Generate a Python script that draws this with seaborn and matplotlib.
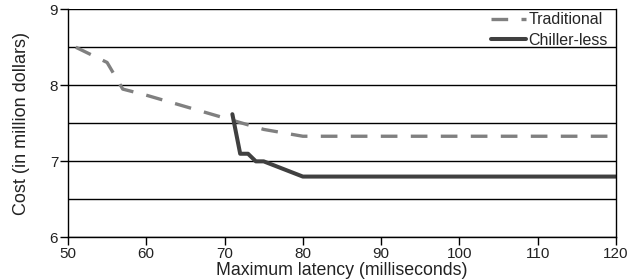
import pandas as pd
import matplotlib
matplotlib.use("Agg")
import matplotlib.pyplot as plt
import seaborn as sns

# latency (ms) vs cost (million dollars)
trad_latency = [51, 55, 57, 60, 65, 70, 75, 80, 90, 100, 110, 120]
trad_cost = [8.5, 8.3, 7.95, 7.87, 7.72, 7.57, 7.42, 7.33, 7.33, 7.33, 7.33, 7.33]

chill_latency = [71, 72, 73, 74, 75, 80, 90, 100, 110, 120]
chill_cost = [7.62, 7.1, 7.1, 7.0, 7.0, 6.8, 6.8, 6.8, 6.8, 6.8]

trad = pd.DataFrame({"latency": trad_latency, "cost": trad_cost})
chill = pd.DataFrame({"latency": chill_latency, "cost": chill_cost})

sns.set_style("white")
plt.rcParams["font.family"] = ["Liberation Sans", "DejaVu Sans"]

fig = plt.figure(figsize=(6.41, 2.79), dpi=100)
ax = fig.add_axes([0.106, 0.149, 0.855, 0.818])

sns.lineplot(data=trad, x="latency", y="cost", ax=ax, color="#808080",
             linewidth=2.4, label="Traditional")
ax.lines[-1].set_dashes([5, 4])
ax.lines[-1].set_dash_capstyle("butt")
sns.lineplot(data=chill, x="latency", y="cost", ax=ax, color="#404040",
             linewidth=2.9, label="Chiller-less")

ax.set_xlim(50, 120)
ax.set_ylim(6, 9)
ax.set_xticks(range(50, 121, 10))
ax.set_yticks([6, 7, 8, 9])
ax.set_yticks([6.5, 7.5, 8.5], minor=True)
ax.grid(True, which="both", axis="y", color="black", linewidth=1)
ax.set_axisbelow(True)

for side in ["left", "bottom", "right"]:
    ax.spines[side].set_visible(True)
    ax.spines[side].set_color("black")
    ax.spines[side].set_linewidth(1)
ax.spines["top"].set_visible(False)

ax.tick_params(axis="both", which="major", direction="out", length=6, width=1,
               color="black", labelsize=11, pad=1, left=True, bottom=True,
               labelcolor="#222222")
ax.tick_params(axis="y", which="minor", length=0)

ax.set_xlabel("Maximum latency (milliseconds)", fontsize=12.8, color="#222222")
ax.xaxis.set_label_coords(0.5, -0.108)
ax.set_ylabel("Cost (in million dollars)", fontsize=13, color="#222222")
ax.yaxis.set_label_coords(-0.069, 0.5)

leg = ax.legend(loc="upper right", frameon=False, fontsize=11.5,
                handlelength=2.2, handletextpad=0.15, labelspacing=0.35,
                borderaxespad=0.0, bbox_to_anchor=(0.997, 1.015))

fig.savefig("out.png", dpi=100)
plt.close(fig)
